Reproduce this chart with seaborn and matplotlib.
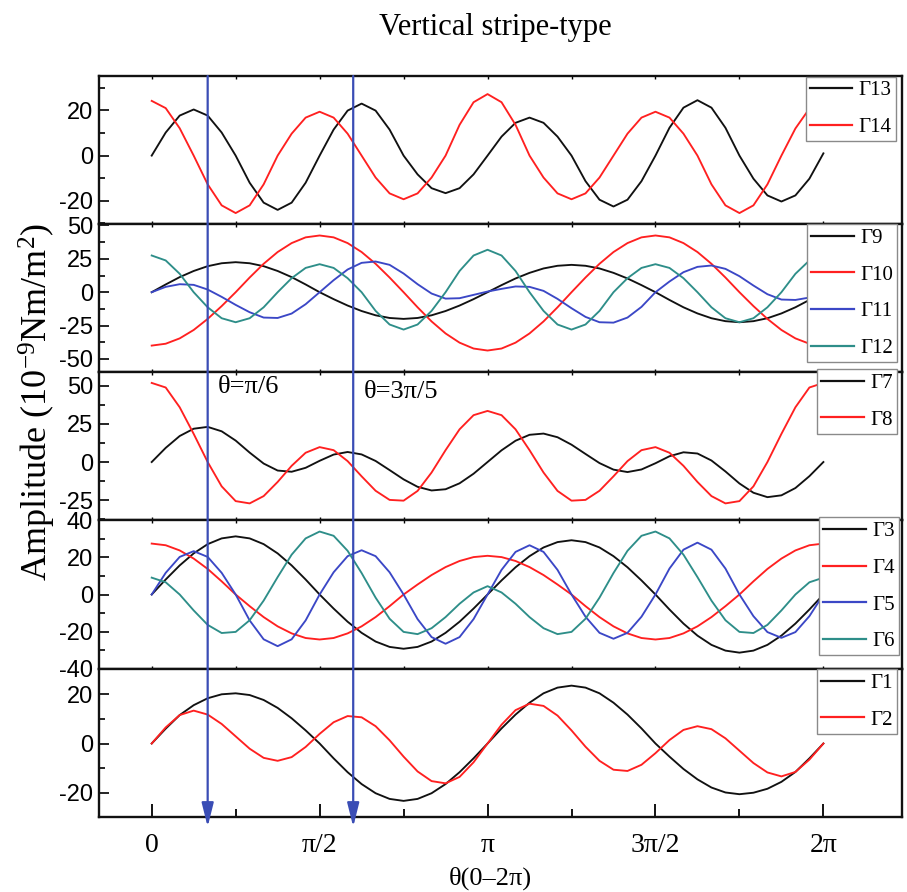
import numpy as np
import pandas as pd
import matplotlib
matplotlib.use("Agg")
import matplotlib.pyplot as plt
import seaborn as sns
from matplotlib.ticker import MultipleLocator
from matplotlib.transforms import blended_transform_factory

# angular grid (degrees), one sample every 7.5 degrees over 0..2pi
theta_deg = np.arange(0, 360.1, 7.5)
theta = np.deg2rad(theta_deg)

G1 = [0, 6.0, 11.5, 15.5, 18.3, 19.9, 20.3, 19.6, 17.6, 14.4, 10.2, 5.3, 0,
      -6.0, -11.6, -16.4, -20.1, -22.4, -23.2, -22.4, -20.1, -16.4, -11.6, -6.0, 0,
      6.1, 11.7, 16.5, 20.3, 22.6, 23.4, 22.6, 20.3, 16.5, 11.7, 6.1, 0,
      -5.3, -10.3, -14.5, -17.8, -19.8, -20.5, -19.9, -18.3, -15.5, -11.5, -6.0, 0]
G2 = [0, 6.5, 11.5, 13.3, 11.7, 7.9, 2.9, -2.1, -5.8, -7.0, -5.5, -1.4, 3.9,
      8.6, 11.1, 10.6, 7.0, 1.3, -5.3, -11.3, -15.2, -16.1, -13.5, -7.6, 0,
      7.6, 13.5, 16.1, 15.2, 11.3, 5.3, -1.3, -7.0, -10.6, -11.1, -8.6, -3.9,
      1.4, 5.5, 7.0, 5.8, 2.1, -2.9, -7.9, -11.7, -13.3, -11.5, -6.5, 0]
G3 = [0, 8.1, 15.7, 22.2, 27.2, 30.3, 31.4, 30.3, 27.2, 22.2, 15.7, 8.1, 0,
      -7.6, -14.7, -20.7, -25.4, -28.3, -29.3, -28.3, -25.4, -20.7, -14.7, -7.6, 0,
      7.6, 14.7, 20.7, 25.4, 28.3, 29.3, 28.3, 25.4, 20.7, 14.7, 7.6, 0,
      -8.1, -15.7, -22.2, -27.2, -30.3, -31.4, -30.3, -27.2, -22.2, -15.7, -8.1, 0]
G4 = [27.5, 26.6, 23.8, 19.4, 13.8, 7.1, 0, -6.3, -12.2, -17.2, -21.0, -23.5, -24.3,
      -23.5, -21.0, -17.2, -12.2, -6.3, 0, 5.4, 10.5, 14.8, 18.1, 20.2, 20.9,
      20.2, 18.1, 14.8, 10.5, 5.4, 0, -6.3, -12.2, -17.2, -21.0, -23.5, -24.3,
      -23.5, -21.0, -17.2, -12.2, -6.3, 0, 7.1, 13.8, 19.4, 23.8, 26.6, 27.5]
G5 = [0, 11.7, 20.3, 23.4, 20.3, 11.7, 0, -14.0, -24.2, -27.9, -24.2, -14.0, 0,
      12.0, 20.7, 23.9, 20.7, 12.0, 0, -13.3, -23.0, -26.6, -23.0, -13.3, 0,
      13.3, 23.0, 26.6, 23.0, 13.3, 0, -12.0, -20.7, -23.9, -20.7, -12.0, 0,
      14.0, 24.2, 28.0, 24.2, 14.0, 0, -11.7, -20.3, -23.4, -20.3, -11.7, 0]
G6 = [9.1, 6.6, 0.0, -8.6, -16.4, -20.8, -20.2, -13.9, -3.3, 9.4, 21.5, 30.3, 34.0,
      31.7, 23.6, 11.6, -1.7, -13.1, -20.2, -21.4, -18.2, -12.2, -5.0, 1.1, 4.5,
      1.1, -5.0, -12.2, -18.2, -21.4, -20.2, -13.1, -1.7, 11.6, 23.6, 31.7, 34.0,
      30.3, 21.5, 9.4, -3.3, -13.9, -20.2, -20.8, -16.4, -8.6, 0.0, 6.6, 9.1]
G7 = [0, 9.3, 17.1, 21.9, 23.1, 20.2, 14.1, 6.2, -1.0, -5.6, -6.4, -3.8, 0.8,
      4.9, 6.6, 5.0, 0.7, -5.3, -11.4, -16.3, -18.7, -17.9, -14.0, -7.7, 0,
      7.7, 14.0, 17.9, 18.7, 16.3, 11.4, 5.3, -0.7, -5.0, -6.6, -4.9, -0.8,
      3.8, 6.4, 5.6, 1.0, -6.2, -14.1, -20.2, -23.1, -21.9, -17.1, -9.3, 0]
G8 = [52, 49, 36, 18.5, 0, -16, -25.7, -27.2, -22.4, -13.1, -2.5, 6.1, 9.8,
      7.8, 0.6, -9.4, -18.9, -24.9, -25.4, -19, -6.9, 7.8, 21.5, 30.8, 33.6,
      30.8, 21.5, 7.8, -6.9, -19, -25.4, -24.9, -18.9, -9.4, 0.6, 7.8, 9.8,
      6.1, -2.5, -13.1, -22.4, -27.2, -25.7, -16, 0, 18.5, 36, 49, 52]
G9 = [0, 5.8, 11.3, 15.9, 19.5, 21.7, 22.5, 21.7, 19.5, 15.9, 11.3, 5.8, 0,
      -5.2, -10.0, -14.1, -17.3, -19.3, -20.0, -19.3, -17.3, -14.1, -10.0, -5.2, 0,
      5.3, 10.3, 14.5, 17.8, 19.8, 20.5, 19.8, 17.8, 14.5, 10.3, 5.3, 0,
      -5.8, -11.3, -15.9, -19.5, -21.7, -22.5, -21.7, -19.5, -15.9, -11.3, -5.8, -1.0]
G10 = [-40, -38.6, -34.6, -28.3, -20.0, -10.4, 0, 11.0, 21.3, 30.1, 36.8, 41.1, 42.5,
       41.1, 36.8, 30.1, 21.3, 11.0, 0, -11.3, -21.9, -30.9, -37.8, -42.2, -43.7,
       -42.2, -37.8, -30.9, -21.9, -11.3, 0, 11.0, 21.3, 30.1, 36.8, 41.1, 42.5,
       41.1, 36.8, 30.1, 21.3, 11.0, 0, -10.4, -20.0, -28.3, -34.6, -38.6, -40]
G11 = [0, 4, 6, 5.5, 2, -3.5, -9.5, -15, -19, -19.3, -16, -9, 0,
       9, 17, 22, 23, 20.5, 14, 6, -1, -4.8, -4.5, -2, 0.5,
       2.5, 4.3, 4, 1, -5, -12, -18.5, -22.5, -22.8, -19, -11, 0,
       8, 15, 19, 20, 17.5, 12, 5, -1.5, -5.5, -5.8, -4, -2]
G12 = [27.5, 23.8, 13.8, 0, -11.3, -19.5, -22.5, -19.5, -11.3, 0, 10.5, 18.2, 21.0,
       18.2, 10.5, 0, -14.0, -24.2, -28.0, -24.2, -14.0, 0, 15.9, 27.5, 31.8,
       27.5, 15.9, 0, -14.0, -24.2, -28.0, -24.2, -14.0, 0, 10.5, 18.2, 21.0,
       18.2, 10.5, 0, -11.3, -19.5, -22.5, -19.5, -11.3, 0, 13.8, 23.8, 27.5]
G13 = [0, 10.2, 17.7, 20.4, 17.7, 10.2, 0, -12.0, -20.8, -24.0, -20.8, -12.0, 0,
       11.5, 19.9, 23.0, 19.9, 11.5, 0, -8.3, -14.4, -16.6, -14.4, -8.3, 0,
       8.4, 14.5, 16.8, 14.5, 8.4, 0, -11.3, -19.5, -22.5, -19.5, -11.3, 0,
       12.3, 21.2, 24.5, 21.2, 12.3, 0, -10.2, -17.6, -20.3, -17.6, -10.2, 1.0]
G14 = [24.2, 21.0, 12.1, 0, -12.7, -22.0, -25.4, -22.0, -12.7, 0, 9.7, 16.8, 19.4,
       16.8, 9.7, 0, -9.7, -16.7, -19.3, -16.7, -9.7, 0, 13.6, 23.6, 27.2,
       23.6, 13.6, 0, -9.7, -16.7, -19.3, -16.7, -9.7, 0, 9.7, 16.8, 19.4,
       16.8, 9.7, 0, -12.7, -22.0, -25.4, -22.0, -12.7, 0, 12.0, 20.8, 24.0]

x_tick_labels = ["0", "π/2", "π", "3π/2", "2π"]
marker_angles = [np.pi / 6, 3 * np.pi / 5]
marker_labels = ["θ=π/6", "θ=3π/5"]

BLACK, RED, BLUE, TEAL = "#111111", "#ff2020", "#3b47c6", "#2e8e89"
ARROW = "#3a4db5"

# (names, values, colours, y-limits, major step, minor step, legend anchor)
panels = [
    (["Γ13", "Γ14"], [G13, G14], [BLACK, RED], (-30.3, 35.2), 20, 10, (0.9926, 0.995)),
    (["Γ9", "Γ10", "Γ11", "Γ12"], [G9, G10, G11, G12], [BLACK, RED, BLUE, TEAL],
     (-60, 51), 25, 12.5, (0.994, 1.0)),
    (["Γ7", "Γ8"], [G7, G8], [BLACK, RED], (-38.4, 59), 25, 12.5, (0.994, 1.02)),
    (["Γ3", "Γ4", "Γ5", "Γ6"], [G3, G4, G5, G6], [BLACK, RED, BLUE, TEAL],
     (-40, 40), 20, 10, (0.9965, 1.02)),
    (["Γ1", "Γ2"], [G1, G2], [BLACK, RED], (-29.6, 30.3), 20, 10, (0.994, 0.995)),
]

plt.rcParams["font.family"] = ["Liberation Serif", "DejaVu Serif"]
plt.rcParams["mathtext.fontset"] = "custom"
plt.rcParams["mathtext.rm"] = "Liberation Serif"
plt.rcParams["mathtext.it"] = "Liberation Serif:italic"
plt.rcParams["axes.unicode_minus"] = False

fig = plt.figure(figsize=(9.07, 8.92), dpi=100)
axes = fig.subplots(5, 1, sharex=True,
                    gridspec_kw=dict(hspace=0, left=0.1095, right=0.9942,
                                     top=0.9148, bottom=0.0844))

for i, (ax, (names, vals, cols, ylim, major, minor, anchor)) in enumerate(zip(axes, panels)):
    df = pd.DataFrame({
        "theta": np.tile(theta, len(names)),
        "value": np.concatenate([np.asarray(v, float) for v in vals]),
        "series": np.repeat(names, len(theta)),
    })
    sns.lineplot(data=df, x="theta", y="value", hue="series", hue_order=names,
                 palette=cols, estimator=None, sort=False, linewidth=1.35,
                 ax=ax, legend=False)
    ax.set_xlabel("")
    ax.set_ylabel("")
    ax.set_ylim(*ylim)
    ax.set_xlim(-0.49, 7.016)
    ax.yaxis.set_major_locator(MultipleLocator(major))
    ax.yaxis.set_minor_locator(MultipleLocator(minor))
    ax.xaxis.set_major_locator(MultipleLocator(np.pi / 2))
    ax.xaxis.set_minor_locator(MultipleLocator(np.pi / 4))
    for sp in ax.spines.values():
        sp.set_linewidth(1.7)
        sp.set_color("#111111")
    ax.tick_params(axis="y", which="both", direction="in", left=True, right=False,
                   width=1.2, labelsize=17, pad=4.5, labelfontfamily="Liberation Sans")
    ax.tick_params(axis="y", which="major", length=7.5)
    ax.tick_params(axis="y", which="minor", length=4)
    if i < 4:
        ax.tick_params(axis="x", which="both", direction="in", top=True, bottom=True,
                       length=2.5, width=1.0, labelbottom=False)
    else:
        ax.tick_params(axis="x", which="both", direction="in", top=False, bottom=True,
                       width=1.3, labelsize=20, pad=12)
        ax.tick_params(axis="x", which="major", length=9.5)
        ax.tick_params(axis="x", which="minor", length=5.5)
    handles = ax.get_lines()[:len(names)]
    leg = ax.legend(handles, names, loc="upper right", bbox_to_anchor=anchor,
                    borderaxespad=0, fontsize=15, labelspacing=0.82,
                    handlelength=2.05, handletextpad=0.3, borderpad=0.2,
                    fancybox=False, framealpha=1)
    leg.get_frame().set_edgecolor("#8a8a8a")
    leg.get_frame().set_linewidth(1.0)
    for ln in leg.get_lines():
        ln.set_linewidth(1.6)

axes[-1].set_xticks([0, np.pi / 2, np.pi, 3 * np.pi / 2, 2 * np.pi])
axes[-1].set_xticklabels(x_tick_labels)

# vertical markers running from the top panel down through the bottom panel
top_tr = blended_transform_factory(axes[0].transData, axes[0].transAxes)
bot_tr = blended_transform_factory(axes[-1].transData, axes[-1].transAxes)
for ang in marker_angles:
    axes[-1].annotate("", xy=(ang, -0.068), xycoords=bot_tr,
                      xytext=(ang, 1.0), textcoords=top_tr,
                      arrowprops=dict(arrowstyle="-|>,head_length=1.2,head_width=0.3",
                                      color=ARROW, lw=1.6, shrinkA=0, shrinkB=0,
                                      mutation_scale=12),
                      annotation_clip=False, zorder=10)

axes[2].text(0.62, 56.5, marker_labels[0], fontsize=19, va="top", ha="left")
axes[2].text(1.98, 53, marker_labels[1], fontsize=19, va="top", ha="left")

fig.text(0.546, 1 - 27 / 892, "Vertical stripe-type", ha="center", va="center", fontsize=22)
fig.text(490.5 / 907, 1 - 878 / 892, "θ(0–2π)", ha="center", va="center", fontsize=19)
fig.text(37 / 907, 1 - 402 / 892, "Amplitude (10$^{-9}$Nm/m$^{2}$)", rotation=90,
         ha="center", va="center", fontsize=26)

fig.savefig("out.png", dpi=100)
